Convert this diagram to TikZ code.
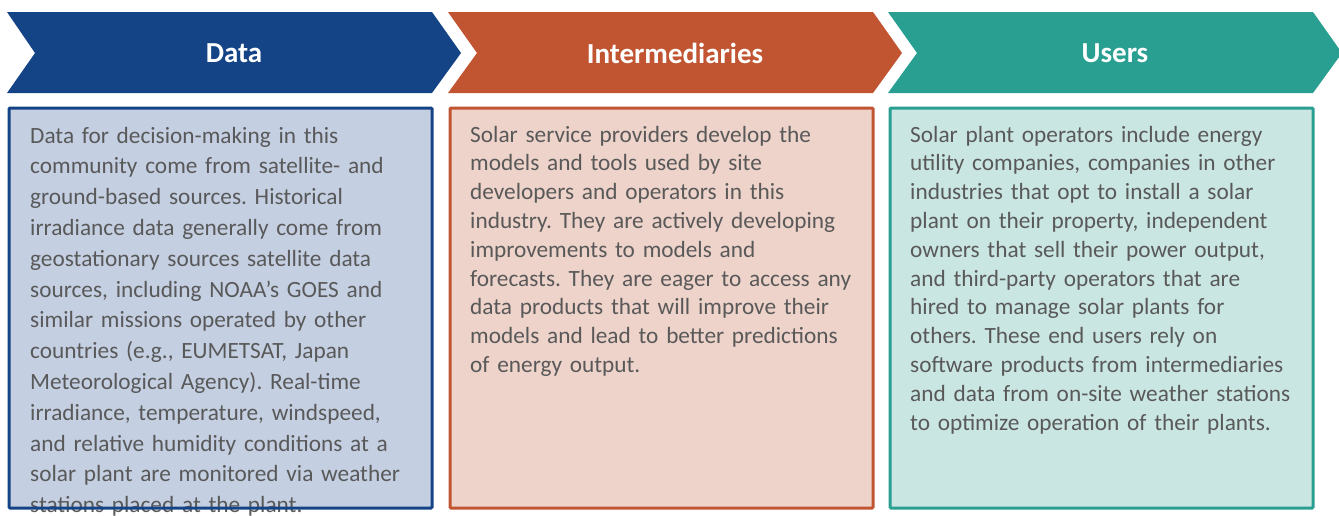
\documentclass[tikz,border=0pt]{standalone}
\usepackage{fontspec}
\setmainfont{Carlito}
\frenchspacing
\definecolor{cblue}{HTML}{144486}
\definecolor{corange}{HTML}{C15532}
\definecolor{cteal}{HTML}{299F91}
\definecolor{fblue}{HTML}{C4CFE2}
\definecolor{forange}{HTML}{EED3CA}
\definecolor{fteal}{HTML}{CAE6E2}
\definecolor{txt}{HTML}{595959}
\tikzset{
  head/.style={text=white, font=\fontsize{29}{32}\selectfont\bfseries, inner sep=0pt},
  bodyA/.style={text=txt, font=\fontsize{23.3}{30.8}\selectfont, align=left, text width=400pt, inner sep=0pt, anchor=base west},
  bodyB/.style={text=txt, font=\fontsize{23.3}{28.8}\selectfont, align=left, text width=400pt, inner sep=0pt, anchor=base west},
  panel/.style={line width=3pt, rounded corners=1pt},
}
\begin{document}
\begin{tikzpicture}[x=1pt,y=-1pt]
\useasboundingbox (0,0) rectangle (1339,515);
\clip (0,0) rectangle (1339,515);
% chevrons
\fill[cblue] (7,12) -- (432,12) -- (461,53) -- (432,93) -- (7,93) -- (35,53) -- cycle;
\fill[corange] (448,12) -- (873,12) -- (902,53) -- (873,93) -- (448,93) -- (477,53) -- cycle;
\fill[cteal] (888,12) -- (1313,12) -- (1342,53) -- (1313,93) -- (888,93) -- (917,53) -- cycle;
\node[head] (hdata) at (234,53) {Data};
\node[head] (hint) at (675,53) {Intermediaries};
\node[head] (husers) at (1115,53) {Users};
% panels
\fill[fblue] (9,108) rectangle (432,508);
\fill[forange] (450,108) rectangle (873,508);
\fill[fteal] (890,108) rectangle (1313,508);
\node[bodyA] (tdata) at (30,143) {Data for decision-making in this\\
community come from satellite- and\\
ground-based sources. Historical\\
irradiance data generally come from\\
geostationary sources satellite data\\
sources, including NOAA’s GOES and\\
similar missions operated by other\\
countries (e.g., EUMETSAT, Japan\\
Meteorological Agency). Real-time\\
irradiance, temperature, windspeed,\\
and relative humidity conditions at a\\
solar plant are monitored via weather\\
stations placed at the plant.};
\node[bodyB] (tint) at (470,142) {Solar service providers develop the\\
models and tools used by site\\
developers and operators in this\\
industry. They are actively developing\\
improvements to models and\\
forecasts. They are eager to access any\\
data products that will improve their\\
models and lead to better predictions\\
of energy output.};
\node[bodyB] (tusers) at (910,142) {Solar plant operators include energy\\
utility companies, companies in other\\
industries that opt to install a solar\\
plant on their property, independent\\
owners that sell their power output,\\
and third-party operators that are\\
hired to manage solar plants for\\
others. These end users rely on\\
software products from intermediaries\\
and data from on-site weather stations\\
to optimize operation of their plants.};
\draw[panel, cblue] (9,108) rectangle (432,508);
\draw[panel, corange] (450,108) rectangle (873,508);
\draw[panel, cteal] (890,108) rectangle (1313,508);
\end{tikzpicture}
\end{document}
